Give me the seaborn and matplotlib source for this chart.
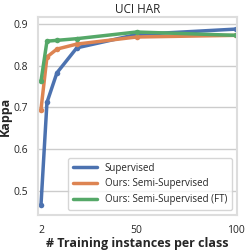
import matplotlib
matplotlib.use("Agg")
import matplotlib.pyplot as plt
import seaborn as sns
import pandas as pd

instances = [2, 5, 10, 20, 50, 100]
supervised = [0.466, 0.712, 0.783, 0.843, 0.875, 0.888]
semi = [0.695, 0.821, 0.840, 0.852, 0.869, 0.873]
semi_ft = [0.763, 0.859, 0.861, 0.865, 0.881, 0.873]
labels = ["Supervised", "Ours: Semi-Supervised", "Ours: Semi-Supervised (FT)"]

sns.set_theme(style="whitegrid")
plt.rcParams['font.family'] = ['Open Sans', 'DejaVu Sans']

rows = []
for lab, vals in zip(labels, [supervised, semi, semi_ft]):
    for x, v in zip(instances, vals):
        rows.append({"x": x, "kappa": v, "method": lab})
df = pd.DataFrame(rows)

fig = plt.figure(figsize=(2.5, 2.5), dpi=100)
ax = fig.add_axes([0.152, 0.14, 0.796, 0.792])
pal = sns.color_palette("deep")[:3]
sns.lineplot(data=df, x="x", y="kappa", hue="method", palette=pal, marker="o",
             markersize=4, markeredgewidth=0, linewidth=2.5, ax=ax)
ax.set_xlim(0.5, 100.5)
ax.set_ylim(0.442, 0.917)
ax.set_xticks([2, 50, 100])
ax.set_yticks([0.5, 0.6, 0.7, 0.8, 0.9])
ax.grid(False, axis="x")
ax.tick_params(labelsize=7.5, pad=1)
ax.set_title("UCI HAR", fontsize=8.5, pad=3)
ax.set_xlabel("# Training instances per class", fontsize=9, fontweight="bold", labelpad=1)
ax.set_ylabel("Kappa", fontsize=9, fontweight="bold")
ax.yaxis.set_label_coords(-0.13, 0.5)
for s in ax.spines.values():
    s.set_color("#dddddd")
    s.set_linewidth(1.5)
leg = ax.legend(loc="lower right", fontsize=7, title=None, handlelength=2.5, borderpad=0.5)
for h in leg.legend_handles:
    h.set_marker("")
fig.savefig("out.png", dpi=100)
